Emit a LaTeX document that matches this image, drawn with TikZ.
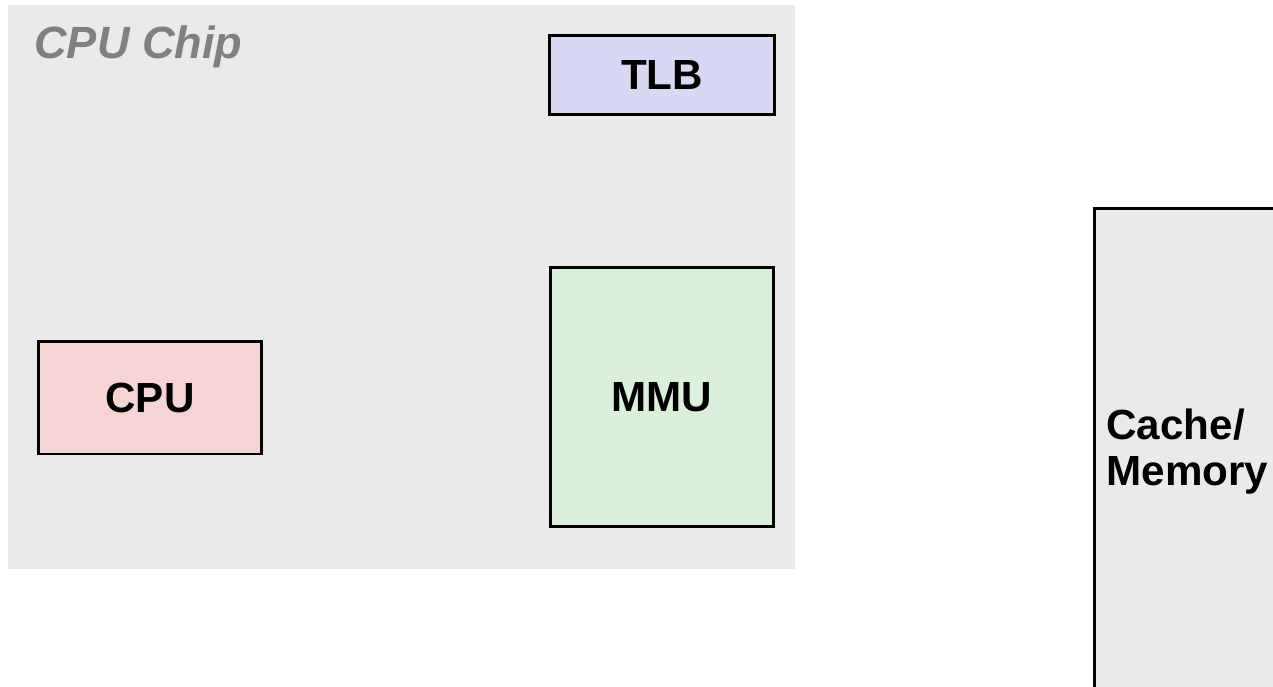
\documentclass[tikz,border=0pt]{standalone}
\usepackage{fontspec}
\setmainfont{Liberation Sans}
\usepackage{tikz}
\usetikzlibrary{positioning}
\definecolor{chipgray}{RGB}{234,234,234}
\definecolor{cpupink}{RGB}{247,212,212}
\definecolor{tlbblue}{RGB}{216,216,244}
\definecolor{mmugreen}{RGB}{218,240,218}
\definecolor{labelgray}{RGB}{128,128,128}

\begin{document}
\begin{tikzpicture}[x=0.02cm,y=-0.02cm,
    every node/.style={font=\fontsize{24}{26}\selectfont\bfseries},
    unit/.style={draw,line width=1.7pt,minimum width=4.48cm,inner sep=0pt}]
      \useasboundingbox (0,0) rectangle (1273,686);
      % chip area
      \node[fill=chipgray,minimum width=15.74cm,minimum height=11.28cm,inner sep=0pt] (chip) at (401.5,287) {};
      \node[anchor=base west,inner sep=0pt,text=labelgray,font=\fontsize{25.7}{30}\selectfont\bfseries\itshape] (chiplabel) at (34,59) {CPU Chip};
      \node[unit,fill=cpupink,minimum height=2.26cm] (cpu) at (150,397.5) {CPU};
      \node[unit,fill=mmugreen,minimum height=5.2cm] (mmu) at (662,397) {MMU};
      \node[unit,fill=tlbblue,minimum width=4.5cm,minimum height=1.58cm,above=2.99cm of mmu] (tlb) {TLB};
      % memory side
      \node[draw,fill=chipgray,line width=1.7pt,anchor=north west,minimum width=6.14cm,minimum height=9.72cm,
        text width=5.66cm,inner xsep=0.24cm,align=left] (mem) at (1093,207) {Cache/\\Memory};
    \end{tikzpicture}
\end{document}
